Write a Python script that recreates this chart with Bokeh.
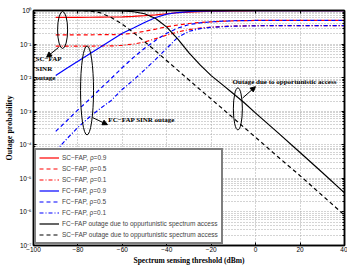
import math
from bokeh.plotting import figure
from bokeh.models import (Legend, LegendItem, Label, Arrow, NormalHead, FixedTicker,
                          CustomJSTickFormatter, Range1d, LogAxis, LinearAxis)
from bokeh.embed import file_html
from bokeh.resources import INLINE

# ---------------- data ----------------
threshold = [-90, -85, -80, -75, -70, -65, -60, -55, -50, -45, -40, -35, -30, -25,
             -20, -15, -10, -5, 0, 10, 20, 30, 40]

sc_rho09 = [0.62, 0.62, 0.625, 0.63, 0.635, 0.64, 0.65, 0.67, 0.70, 0.74, 0.80, 0.86,
            0.90, 0.93, 0.95, 0.96, 0.97, 0.978, 0.985, 0.99, 0.992, 0.993, 0.994]
sc_rho05 = [0.188, 0.188, 0.188, 0.189, 0.19, 0.19, 0.195, 0.21, 0.24, 0.28, 0.33, 0.37,
            0.41, 0.44, 0.46, 0.48, 0.49, 0.50, 0.505, 0.51, 0.51, 0.51, 0.51]
sc_rho01 = [0.087, 0.087, 0.087, 0.087, 0.088, 0.088, 0.092, 0.10, 0.115, 0.145, 0.185,
            0.23, 0.27, 0.30, 0.32, 0.335, 0.345, 0.35, 0.352, 0.355, 0.355, 0.355, 0.355]
fc_rho09 = [0.0115, 0.019, 0.031, 0.05, 0.08, 0.13, 0.21, 0.30, 0.44, 0.62, 0.78, 0.87,
            0.92, 0.95, 0.965, 0.975, 0.982, 0.986, 0.99, 0.993, 0.995, 0.996, 0.997]
fc_rho05 = [2.5e-4, 5.2e-4, 1.1e-3, 2.2e-3, 4.6e-3, 9.5e-3, 0.02, 0.04, 0.075, 0.13, 0.21,
            0.30, 0.38, 0.43, 0.46, 0.48, 0.495, 0.50, 0.505, 0.51, 0.51, 0.51, 0.51]
fc_rho01 = [6.5e-5, 1.5e-4, 3.3e-4, 6.5e-4, 1.2e-3, 2.1e-3, 4.5e-3, 8.5e-3, 0.017, 0.035,
            0.075, 0.16, 0.24, 0.29, 0.315, 0.33, 0.34, 0.345, 0.35, 0.355, 0.355, 0.355, 0.355]
fc_opp = [1.0, 1.0, 0.999, 0.998, 0.995, 0.99, 0.97, 0.92, 0.80, 0.58, 0.32, 0.14, 0.055,
          0.024, 0.0115, 6.2e-3, 3.3e-3, 1.75e-3, 8.8e-4, 2.3e-4, 5.9e-5, 1.5e-5, 3.7e-6]
sc_opp = [1.0, 1.0, 0.995, 0.97, 0.86, 0.62, 0.39, 0.22, 0.118, 0.062, 0.032, 0.0165,
          8.5e-3, 4.4e-3, 2.3e-3, 1.2e-3, 6.2e-4, 3.2e-4, 1.66e-4, 4.4e-5, 1.2e-5, 3.1e-6, 8e-7]

x_ticks = [-100, -80, -60, -40, -20, 0, 20, 40]
y_decades = [-7, -6, -5, -4, -3, -2, -1, 0]

series_labels = ["SC\u2212FAP, \u03c1=0.9", "SC\u2212FAP, \u03c1=0.5", "SC\u2212FAP, \u03c1=0.1",
                 "FC\u2212FAP, \u03c1=0.9", "FC\u2212FAP, \u03c1=0.5", "FC\u2212FAP, \u03c1=0.1",
                 "FC\u2212FAP outage due to oppurtunistic spectrum access",
                 "SC\u2212FAP outage due to oppurtunistic spectrum access"]

# ---------------- figure ----------------
p = figure(width=347, height=267, x_range=Range1d(-100, 40), y_range=Range1d(1e-7, 1),
           y_axis_type="log", output_backend="svg", toolbar_location=None,
           min_border_left=33, min_border_right=3, min_border_top=10, min_border_bottom=0)
p.background_fill_color = "white"
p.border_fill_color = "white"
p.outline_line_color = "black"
p.outline_line_width = 1.5

bottom_ax = p.below[0]
left_ax = p.left[0]

x_ticker = FixedTicker(ticks=x_ticks)
y_ticker = FixedTicker(ticks=[10.0 ** e for e in y_decades],
                       minor_ticks=[m * 10.0 ** e for e in y_decades[:-1] for m in range(2, 10)])
bottom_ax.ticker = x_ticker
left_ax.ticker = y_ticker
left_ax.formatter = CustomJSTickFormatter(code="""
const e = Math.round(Math.log10(tick));
const m = {"-":"\\u207b","0":"\\u2070","1":"\\u00b9","2":"\\u00b2","3":"\\u00b3","4":"\\u2074",
           "5":"\\u2075","6":"\\u2076","7":"\\u2077","8":"\\u2078","9":"\\u2079"};
return "10" + String(e).split("").map(c => m[c]).join("");
""")
bottom_ax.formatter = CustomJSTickFormatter(code="return String(tick).replace('-', '\\u2212');")

# mirrored tick marks on the top and right edges (no labels)
blank = CustomJSTickFormatter(code="return '';")
right_ax = LogAxis(ticker=y_ticker, formatter=blank)
top_ax = LinearAxis(ticker=x_ticker, formatter=blank)
p.add_layout(right_ax, "right")
p.add_layout(top_ax, "above")

for ax in (bottom_ax, left_ax, right_ax, top_ax):
    ax.axis_line_color = "black"
    ax.axis_line_width = 1.5
    ax.major_tick_in = 3
    ax.major_tick_out = 0
    ax.minor_tick_in = 2
    ax.minor_tick_out = 0
    ax.major_tick_line_color = "black"
    ax.major_label_text_font = "Liberation Sans"
    ax.major_label_text_font_size = "6.5px"
    ax.major_label_text_color = "black"
    ax.axis_label_text_font = "Liberation Serif"
    ax.axis_label_text_font_style = "bold"
    ax.axis_label_text_color = "black"
for ax in (right_ax, top_ax):
    ax.major_label_standoff = 0
    ax.major_label_text_font_size = "0px"
top_ax.minor_tick_line_color = None
bottom_ax.minor_tick_line_color = None
bottom_ax.axis_label = "Spectrum sensing threshold (dBm)"
bottom_ax.axis_label_text_font_size = "7.5px"
bottom_ax.axis_label_standoff = 1
bottom_ax.major_label_standoff = 1
left_ax.axis_label = "Outage probability"
left_ax.axis_label_text_font_size = "8px"
left_ax.axis_label_standoff = 2
left_ax.major_label_standoff = 2

for g in (p.xgrid[0], p.ygrid[0]):
    g.grid_line_color = "#a8a8a8"
    g.grid_line_dash = "1 2"
    g.grid_line_width = 1
p.ygrid.minor_grid_line_color = "#a8a8a8"
p.ygrid.minor_grid_line_dash = "1 2"

# ---------------- curves ----------------
styles = [
    (sc_rho09, "red", "solid"),
    (sc_rho05, "red", "4 3"),
    (sc_rho01, "red", "4 2 1 2"),
    (fc_rho09, "blue", "solid"),
    (fc_rho05, "blue", "4 3"),
    (fc_rho01, "blue", "4 2 1 2"),
    (fc_opp, "black", "solid"),
    (sc_opp, "black", "4 3"),
]
items = []
for (vals, col, dash), lab in zip(styles, series_labels):
    r = p.line(threshold, vals, line_color=col, line_width=1.2, line_dash=dash)
    items.append(LegendItem(label=lab, renderers=[r]))

legend = Legend(items=items, location="bottom_left",
                label_text_font="Liberation Sans", label_text_font_size="6.5px",
                label_height=9, glyph_height=9, glyph_width=20, label_standoff=3,
                spacing=2, padding=3, margin=1,
                border_line_color="black", border_line_width=2,
                background_fill_color="white", background_fill_alpha=1)
p.add_layout(legend)

# ---------------- annotations ----------------
p.ellipse(x=[-86.9, -75.9, -8.0], y=[10 ** -0.58, 10 ** -2.38, 10 ** -2.93],
          width=[10, 13, 9], height=[37, 89, 42], width_units="screen", height_units="screen",
          fill_color=None, line_color="black", line_width=1)

for xs, ys, xe, ye in [(-88.7, -1.10, -94.1, -1.39),
                       (-73.4, -3.19, -66.7, -3.40),
                       (-5.9, -2.61, -0.1, -2.27)]:
    p.add_layout(Arrow(end=NormalHead(size=5, fill_color="black", line_color="black"),
                       x_start=xs, y_start=10 ** ys, x_end=xe, y_end=10 ** ye,
                       line_color="black", line_width=1))

ann_font = dict(text_font="Liberation Serif", text_font_style="bold", text_color="black",
                text_baseline="middle", text_align="left")
for txt, xx, yy in [("SC\u2212FAP", -99.1, -1.45), ("SINR", -99.1, -1.74), ("outage", -99.1, -2.0)]:
    p.add_layout(Label(x=xx, y=10 ** yy, text=txt, text_font_size="7px", **ann_font))
p.add_layout(Label(x=-66.3, y=10 ** -3.25, text="FC\u2212FAP SINR outage",
                   text_font_size="7px", **ann_font))
p.add_layout(Label(x=-10.4, y=10 ** -2.12, text="Outage due to opportunistic access",
                   text_font_size="7px", **ann_font))

open("out.html", "w").write(file_html(p, INLINE))
